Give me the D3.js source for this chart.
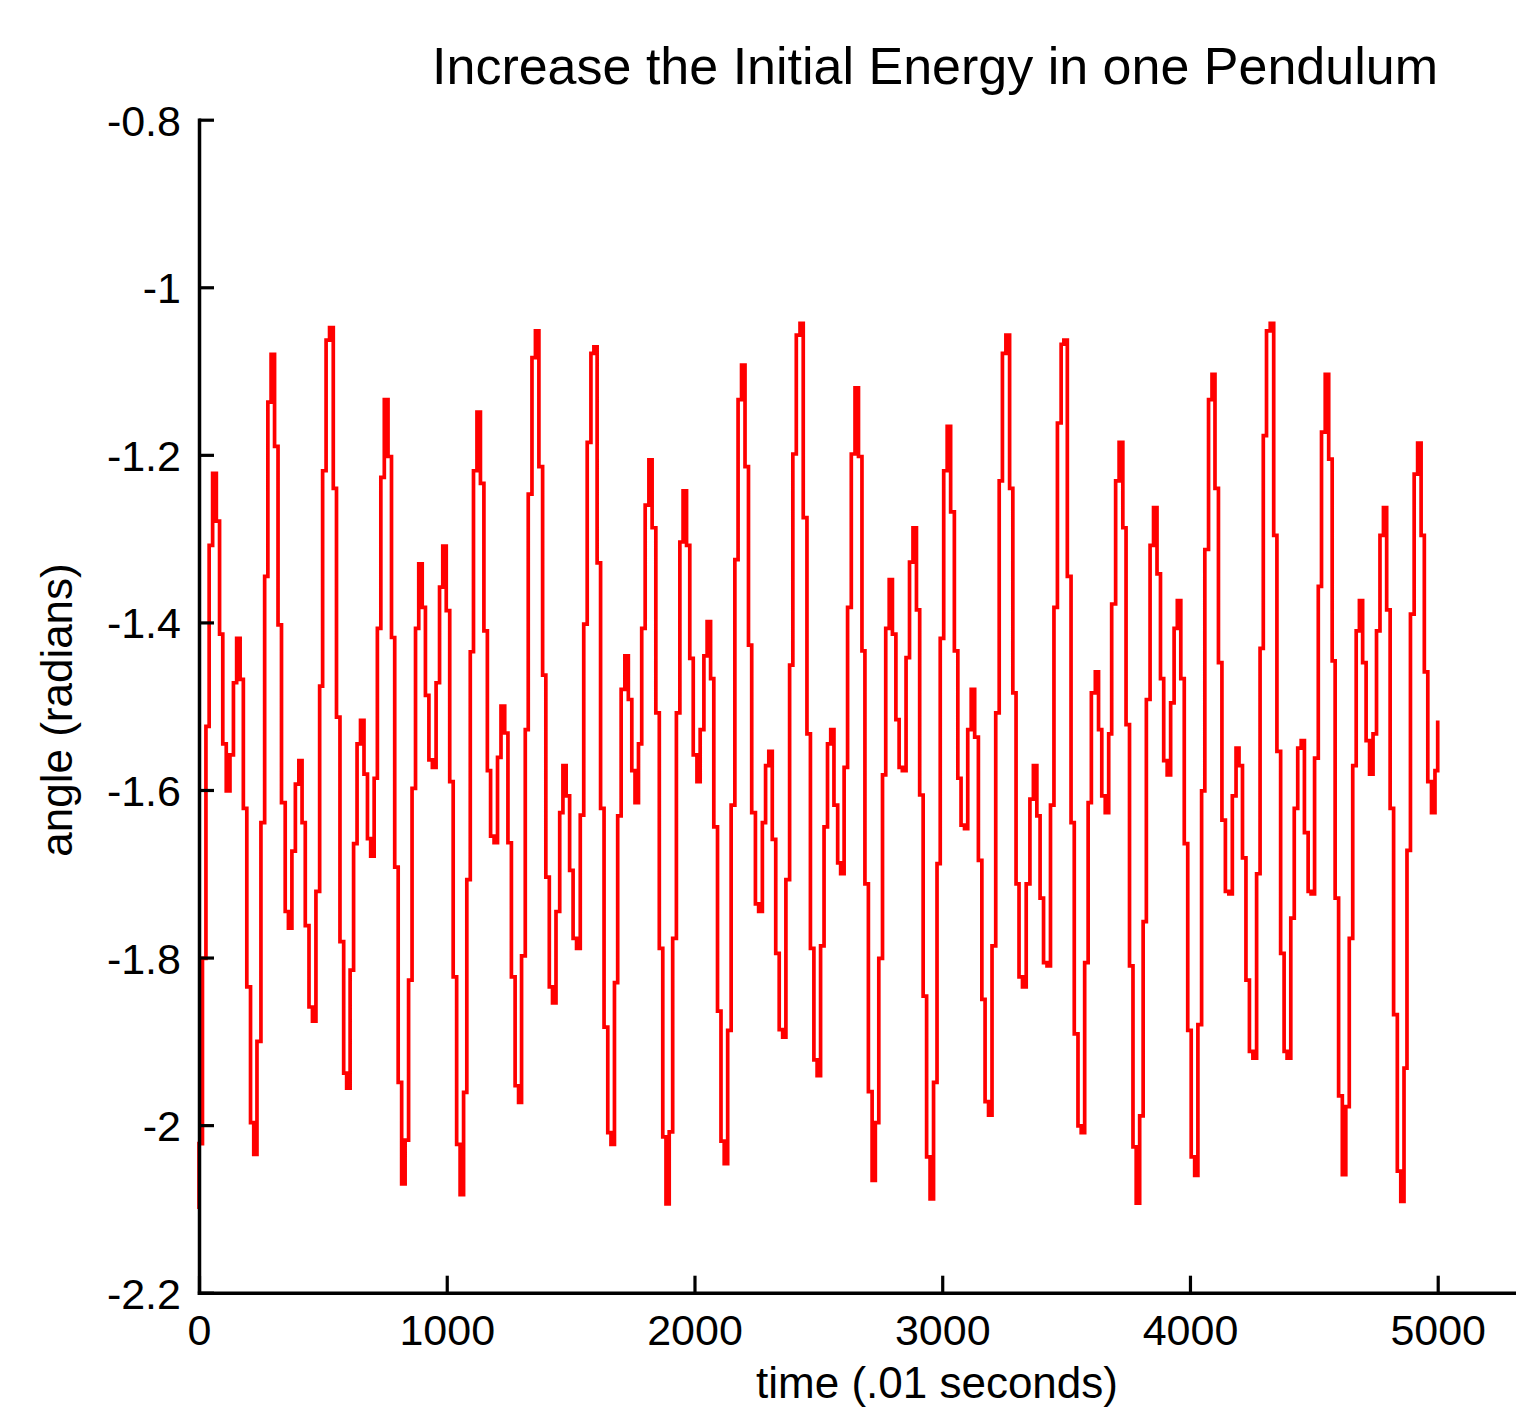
<!DOCTYPE html>
<html>
<head>
<meta charset="utf-8">
<script src="https://cdn.jsdelivr.net/npm/d3@7"></script>
<style>
  html, body { margin: 0; padding: 0; background: #fff; }
  svg text { font-family: "Liberation Sans", Arial, sans-serif; fill: #000; }
</style>
</head>
<body>
<div id="chart"></div>
<script>
// time (.01 s) of each sample
const timeSteps = [
    0, 0, 14, 28, 41, 55, 70, 83, 96, 110, 125, 139, 152, 166, 179, 193, 208, 221, 234, 250,
    265, 278, 291, 305, 319, 333, 348, 361, 375, 389, 403, 416, 429, 444, 458, 472, 487, 499, 513, 527,
    542, 555, 569, 584, 596, 610, 624, 638, 652, 666, 680, 693, 707, 720, 734, 748, 763, 777, 790, 804,
    818, 832, 846, 860, 874, 887, 901, 914, 928, 942, 957, 971, 984, 998, 1012, 1026, 1040, 1054, 1068, 1081,
    1095, 1108, 1122, 1136, 1150, 1164, 1177, 1191, 1205, 1219, 1234, 1247, 1261, 1276, 1290, 1302, 1317, 1329, 1344, 1358,
    1372, 1387, 1400, 1414, 1427, 1441, 1456, 1469, 1482, 1496, 1510, 1524, 1539, 1553, 1567, 1582, 1594, 1607, 1621, 1635,
    1650, 1663, 1677, 1690, 1704, 1719, 1733, 1747, 1760, 1774, 1787, 1801, 1816, 1829, 1844, 1858, 1872, 1885, 1898, 1912,
    1927, 1941, 1954, 1968, 1981, 1995, 2010, 2023, 2038, 2051, 2065, 2078, 2093, 2107, 2120, 2134, 2148, 2163, 2176, 2190,
    2204, 2218, 2231, 2246, 2259, 2274, 2287, 2300, 2314, 2328, 2342, 2356, 2369, 2384, 2397, 2411, 2426, 2439, 2454, 2468,
    2482, 2495, 2509, 2523, 2537, 2550, 2563, 2578, 2590, 2604, 2618, 2633, 2648, 2662, 2676, 2688, 2702, 2717, 2730, 2744,
    2759, 2772, 2786, 2799, 2813, 2826, 2839, 2854, 2868, 2882, 2896, 2909, 2923, 2937, 2951, 2965, 2979, 2992, 3006, 3020,
    3034, 3049, 3063, 3076, 3090, 3103, 3117, 3131, 3146, 3160, 3173, 3187, 3201, 3216, 3230, 3243, 3257, 3272, 3285, 3298,
    3310, 3324, 3339, 3354, 3368, 3382, 3395, 3409, 3423, 3437, 3451, 3465, 3480, 3491, 3505, 3520, 3533, 3548, 3561, 3575,
    3589, 3602, 3618, 3631, 3644, 3658, 3672, 3684, 3700, 3714, 3729, 3742, 3756, 3770, 3783, 3797, 3811, 3824, 3839, 3853,
    3867, 3881, 3894, 3908, 3922, 3936, 3949, 3963, 3977, 3991, 4005, 4019, 4032, 4047, 4060, 4075, 4089, 4101, 4115, 4129,
    4143, 4157, 4171, 4186, 4198, 4212, 4226, 4240, 4254, 4269, 4283, 4296, 4309, 4324, 4338, 4351, 4366, 4380, 4392, 4407,
    4421, 4435, 4449, 4462, 4477, 4489, 4503, 4518, 4531, 4546, 4560, 4574, 4586, 4600, 4615, 4629, 4643, 4657, 4671, 4684,
    4697, 4711, 4725, 4739, 4753, 4767, 4781, 4794, 4808, 4822, 4837, 4851, 4864, 4876, 4890, 4905, 4919, 4933, 4946, 4960,
    4975, 4989, 5000
];

// angle (radians) at each sample
const angleValues = [
    -2.100, -2.022, -1.801, -1.524, -1.308, -1.222, -1.279, -1.414, -1.545, -1.601, -1.558, -1.472, -1.419, -1.468, -1.622, -1.835, -1.997, -2.035, -1.900, -1.639,
    -1.345, -1.137, -1.080, -1.190, -1.403, -1.615, -1.745, -1.765, -1.673, -1.593, -1.565, -1.639, -1.762, -1.859, -1.876, -1.721, -1.476, -1.219, -1.063, -1.048,
    -1.240, -1.513, -1.781, -1.938, -1.956, -1.815, -1.664, -1.545, -1.517, -1.581, -1.658, -1.679, -1.586, -1.407, -1.227, -1.134, -1.202, -1.418, -1.692, -1.949,
    -2.070, -2.018, -1.827, -1.598, -1.407, -1.330, -1.382, -1.487, -1.564, -1.573, -1.472, -1.358, -1.309, -1.386, -1.590, -1.823, -2.023, -2.083, -1.961, -1.707,
    -1.435, -1.219, -1.149, -1.234, -1.410, -1.577, -1.655, -1.663, -1.561, -1.500, -1.532, -1.663, -1.823, -1.953, -1.973, -1.798, -1.528, -1.247, -1.084, -1.052,
    -1.214, -1.463, -1.704, -1.835, -1.854, -1.745, -1.627, -1.571, -1.607, -1.696, -1.777, -1.789, -1.630, -1.402, -1.185, -1.079, -1.071, -1.329, -1.622, -1.883,
    -2.009, -2.023, -1.830, -1.631, -1.480, -1.440, -1.492, -1.577, -1.615, -1.545, -1.407, -1.260, -1.206, -1.287, -1.508, -1.789, -2.014, -2.094, -2.008, -1.777,
    -1.508, -1.304, -1.243, -1.308, -1.443, -1.558, -1.590, -1.528, -1.440, -1.399, -1.467, -1.644, -1.864, -2.019, -2.046, -1.887, -1.618, -1.325, -1.134, -1.093,
    -1.214, -1.427, -1.627, -1.736, -1.745, -1.639, -1.571, -1.554, -1.659, -1.795, -1.886, -1.895, -1.707, -1.451, -1.199, -1.057, -1.043, -1.275, -1.533, -1.789,
    -1.922, -1.941, -1.786, -1.644, -1.545, -1.528, -1.618, -1.687, -1.700, -1.573, -1.382, -1.199, -1.120, -1.202, -1.434, -1.712, -1.960, -2.066, -1.997, -1.801,
    -1.582, -1.407, -1.349, -1.414, -1.516, -1.573, -1.577, -1.442, -1.328, -1.287, -1.385, -1.606, -1.846, -2.038, -2.088, -1.949, -1.688, -1.419, -1.219, -1.166,
    -1.268, -1.434, -1.586, -1.642, -1.646, -1.528, -1.480, -1.537, -1.684, -1.850, -1.972, -1.988, -1.786, -1.508, -1.231, -1.079, -1.057, -1.240, -1.484, -1.712,
    -1.823, -1.835, -1.712, -1.611, -1.571, -1.631, -1.729, -1.806, -1.810, -1.618, -1.382, -1.162, -1.068, -1.063, -1.345, -1.639, -1.891, -2.001, -2.009, -1.806,
    -1.615, -1.484, -1.459, -1.528, -1.607, -1.627, -1.533, -1.378, -1.231, -1.185, -1.287, -1.522, -1.810, -2.026, -2.093, -1.989, -1.757, -1.492, -1.308, -1.263,
    -1.342, -1.467, -1.565, -1.582, -1.496, -1.407, -1.374, -1.467, -1.664, -1.887, -2.038, -2.060, -1.880, -1.601, -1.313, -1.134, -1.104, -1.240, -1.448, -1.636,
    -1.721, -1.724, -1.607, -1.550, -1.571, -1.681, -1.827, -1.912, -1.920, -1.700, -1.431, -1.177, -1.052, -1.043, -1.296, -1.554, -1.795, -1.912, -1.920, -1.753,
    -1.622, -1.550, -1.541, -1.651, -1.721, -1.724, -1.562, -1.357, -1.173, -1.104, -1.205, -1.446, -1.729, -1.965, -2.059, -1.978, -1.777, -1.571, -1.410, -1.374,
    -1.448, -1.541, -1.581, -1.533, -1.410, -1.296, -1.263, -1.385, -1.622, -1.868, -2.055, -2.091, -1.932, -1.672, -1.390, -1.223, -1.186, -1.296, -1.459, -1.590,
    -1.627, -1.577, -1.517
];

const xTickValues = [0, 1000, 2000, 3000, 4000, 5000];
const yTickValues = [-0.8, -1, -1.2, -1.4, -1.6, -1.8, -2, -2.2];
const yTickLabels = ['-0.8', '-1', '-1.2', '-1.4', '-1.6', '-1.8', '-2', '-2.2'];

const chartTitle = 'Increase the Initial Energy in one Pendulum';
const xLabel = 'time (.01 seconds)';
const yLabel = 'angle (radians)';

const width = 1516, height = 1410;
const plotLeft = 199, plotRight = 1515, plotTop = 119.7, plotBottom = 1292.7;

const svg = d3.select('#chart')
    .append('svg')
    .attr('width', width)
    .attr('height', height)
    .style('display', 'block')
    .style('background', '#fff');

// scales
const xScale = d3.scaleLinear()
    .domain([0, 5312])
    .range([plotLeft, plotRight]);

const yScale = d3.scaleLinear()
    .domain([-2.2, -0.8])
    .range([plotBottom, plotTop]);

// the signal, drawn as steps like the low-res original
const series = timeSteps.map((t, i) => [t, angleValues[i]]);

const line = d3.line()
    .x(d => xScale(d[0]))
    .y(d => yScale(d[1]))
    .curve(d3.curveStepAfter);

svg.append('path')
    .datum(series)
    .attr('fill', 'none')
    .attr('stroke', '#ff0000')
    .attr('stroke-width', 3.7)
    .attr('stroke-linejoin', 'miter')
    .attr('d', line);

// axes
const xAxis = d3.axisBottom(xScale)
    .tickValues(xTickValues)
    .tickFormat(d => String(d))
    .tickSizeInner(-17)
    .tickSizeOuter(0)
    .tickPadding(0);

const yAxis = d3.axisLeft(yScale)
    .tickValues(yTickValues)
    .tickFormat((d, i) => yTickLabels[i])
    .tickSizeInner(-15)
    .tickSizeOuter(0)
    .tickPadding(18);

const gx = svg.append('g')
    .attr('transform', `translate(0,${plotBottom})`)
    .call(xAxis);

const gy = svg.append('g')
    .attr('transform', `translate(${plotLeft},0)`)
    .call(yAxis);

[gx, gy].forEach(g => {
    g.select('.domain')
        .attr('stroke', '#000')
        .attr('stroke-width', 3.5)
        .attr('stroke-linecap', 'square');
    g.selectAll('.tick line')
        .attr('stroke', '#000')
        .attr('stroke-width', 3.2);
    g.selectAll('.tick text')
        .style('font-family', '"Liberation Sans", Arial, sans-serif')
        .style('font-size', '43px')
        .attr('fill', '#000');
});

gx.selectAll('.tick text')
    .attr('y', 52)
    .attr('dy', null);

gy.selectAll('.tick text')
    .attr('dy', '0.36em');

// labels
svg.append('text')
    .attr('x', 935)
    .attr('y', 84)
    .attr('text-anchor', 'middle')
    .style('font-size', '52px')
    .text(chartTitle);

svg.append('text')
    .attr('x', 937)
    .attr('y', 1398)
    .attr('text-anchor', 'middle')
    .style('font-size', '44px')
    .text(xLabel);

svg.append('text')
    .attr('transform', 'rotate(-90)')
    .attr('x', -710)
    .attr('y', 72)
    .attr('text-anchor', 'middle')
    .style('font-size', '44px')
    .text(yLabel);
</script>
</body>
</html>
